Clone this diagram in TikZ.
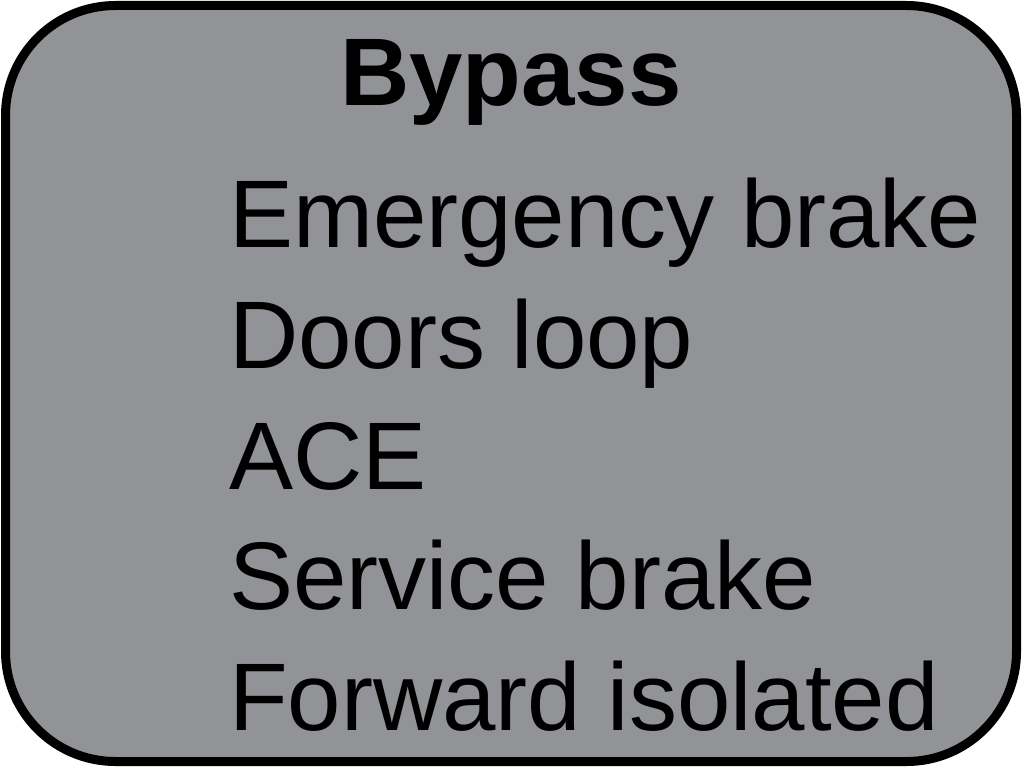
\documentclass[tikz,border=0pt]{standalone}
\usepackage{fontspec}
\setmainfont{Liberation Sans}
\definecolor{panelgrey}{HTML}{929397}
\tikzset{
  panel/.style={draw=black, line width=9pt, fill=panelgrey, rounded corners=110pt},
  heading/.style={anchor=base, inner sep=0pt, font=\fontsize{96}{96}\selectfont\bfseries},
  entry/.style={anchor=base west, inner sep=0pt, font=\fontsize{96}{96}\selectfont}
}
\begin{document}
\begin{tikzpicture}[x=1pt, y=-1pt]
  \useasboundingbox (0,0) rectangle (1024,768);
  \node[panel, minimum width=1011pt, minimum height=756pt, inner sep=0pt] (box) at (511,383.5) {};
  \node[heading] (title) at (511,105) {Bypass};
  \node[entry] (e1) at (229,247) {Emergency brake};
  \node[entry] (e2) at (229,368) {Doors loop};
  \node[entry] (e3) at (229,489) {ACE};
  \node[entry] (e4) at (229,609) {Service brake};
  \node[entry] (e5) at (229,730) {Forward isolated};
\end{tikzpicture}
\end{document}
